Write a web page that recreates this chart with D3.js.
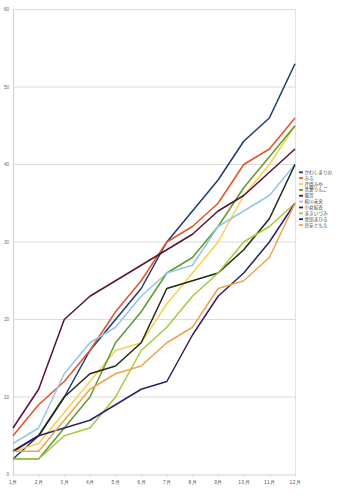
<!DOCTYPE html>
<html>
<head>
<meta charset="utf-8">
<script src="https://cdn.jsdelivr.net/npm/d3@7"></script>
<style>
  body { margin: 0; background: #fff; }
  svg { display: block; font-family: "Noto Sans CJK JP", "DejaVu Sans", sans-serif; }
</style>
</head>
<body>
<svg width="353" height="500"></svg>
<script>
var months = ['1月', '2月', '3月', '4月', '5月', '6月', '7月', '8月', '9月', '10月', '11月', '12月'];
var names = ['かわしまりの', 'みる', '芹園みや', '青葉りんご', '風音', '桜川未央', '小倉結衣', 'まきいづみ', '金田まひる', '民安ともえ'];
var colors = ['#1d3c6c', '#e2532a', '#f7d24c', '#5d9a2f', '#5b1232', '#94c6ea', '#1e2b12', '#a2cb3c', '#2e2168', '#f0a24e'];
var yTicks = [0, 10, 20, 30, 40, 50, 60];

var kawashima = [2, 5, 10, 16, 20, 24, 30, 34, 38, 43, 46, 53];
var miru      = [5, 9, 12, 16, 21, 25, 30, 32, 35, 40, 42, 46];
var serizono  = [3, 4, 8, 12, 16, 17, 22, 26, 30, 36, 40, 45];
var aoba      = [2, 2, 6, 10, 17, 21, 26, 28, 32, 37, 41, 45];
var kazane    = [6, 11, 20, 23, 25, 27, 29, 31, 34, 36, 39, 42];
var sakuragawa = [4, 6, 13, 17, 19, 23, 26, 27, 32, 34, 36, 40];
var ogura     = [3, 5, 10, 13, 14, 17, 24, 25, 26, 29, 33, 40];
var maki      = [2, 2, 5, 6, 10, 16, 19, 23, 26, 30, 32, 35];
var kaneda    = [3, 5, 6, 7, 9, 11, 12, 18, 23, 26, 30, 35];
var tamiyasu  = [3, 3, 7, 11, 13, 14, 17, 19, 24, 25, 28, 35];

var series = [kawashima, miru, serizono, aoba, kazane, sakuragawa, ogura, maki, kaneda, tamiyasu];

var svg = d3.select('svg');

var x = d3.scalePoint().domain(months).range([13, 295]);
var y = d3.scaleLinear().domain([0, 60]).range([474.5, 9.5]);

// grid
svg.append('g')
    .selectAll('line')
    .data(yTicks.slice(1))
    .enter()
    .append('line')
    .attr('x1', 13)
    .attr('x2', 295.5)
    .attr('y1', function(d) { return y(d); })
    .attr('y2', function(d) { return y(d); })
    .style('stroke', '#dcdcdc')
    .style('stroke-width', 1.2);

// right border
svg.append('line')
    .attr('x1', 295.5).attr('x2', 295.5)
    .attr('y1', y(60)).attr('y2', y(0))
    .style('stroke', '#e2e2e2')
    .style('stroke-width', 1.2);

// y axis
var yAxis = svg.append('g')
    .attr('transform', 'translate(13,0)')
    .call(d3.axisLeft(y).tickValues(yTicks).tickSize(0).tickPadding(4));
yAxis.select('.domain').style('stroke', '#d4d4d4').style('stroke-width', 1.2);
yAxis.selectAll('text').style('font-size', '4.6px').style('fill', '#666');

// x axis
var xAxis = svg.append('g')
    .attr('transform', 'translate(0,' + y(0) + ')')
    .call(d3.axisBottom(x).tickSize(2).tickPadding(4));
xAxis.select('.domain').style('stroke', '#d4d4d4').style('stroke-width', 1.2);
xAxis.selectAll('line').style('stroke', '#d4d4d4');
xAxis.selectAll('text').style('font-size', '4.8px').style('fill', '#555').style('letter-spacing', '0.6px');

// lines
var line = d3.line()
    .x(function(d, i) { return x(months[i]); })
    .y(function(d) { return y(d); });

svg.append('g')
    .selectAll('path')
    .data(series)
    .enter()
    .append('path')
    .attr('d', line)
    .style('fill', 'none')
    .style('stroke', function(d, i) { return colors[i]; })
    .style('stroke-width', 1.5)
    .style('stroke-linejoin', 'round');

// legend
var legend = svg.append('g')
    .selectAll('g')
    .data(names)
    .enter()
    .append('g')
    .attr('transform', function(d, i) { return 'translate(299,' + (172.3 + i * 5.86) + ')'; });

legend.append('line')
    .attr('x1', 0).attr('x2', 4)
    .style('stroke', function(d, i) { return colors[i]; })
    .style('stroke-width', 1.8);

legend.append('text')
    .attr('x', 5.5)
    .attr('y', 1.6)
    .style('font-size', '4.6px')
    .style('fill', '#444')
    .text(function(d) { return d; });
</script>
</body>
</html>
